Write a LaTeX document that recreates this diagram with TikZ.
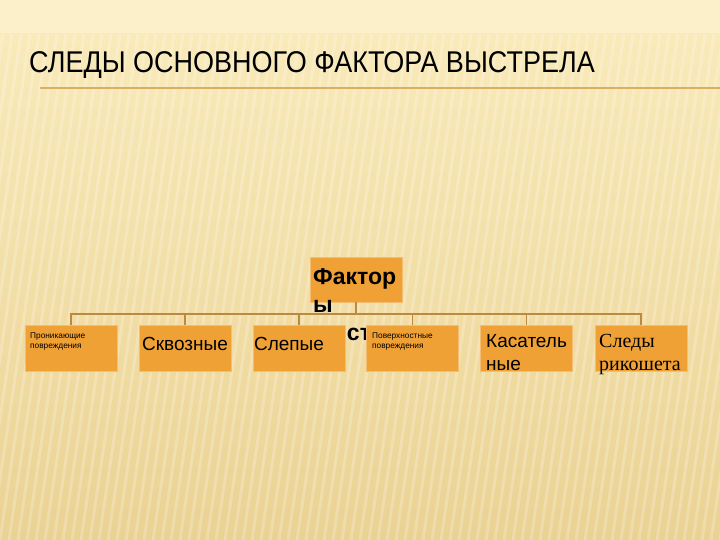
\documentclass[tikz,border=0pt]{standalone}
\usepackage{fontspec}
\setmainfont{Liberation Sans}
\newfontfamily\titlefont[FakeStretch=0.9]{Liberation Sans}
\newfontfamily\seriffont{Liberation Serif}
\definecolor{boxfill}{HTML}{EFA136}
\definecolor{conn}{HTML}{B98A40}
\definecolor{rulec}{HTML}{D8B064}
\definecolor{bgtop}{HTML}{FBF0C9}
\definecolor{bgmid}{HTML}{F9EABA}
\definecolor{bgbot}{HTML}{EAD293}
\tikzset{
  x=1pt, y=-1pt,
  orangebox/.style={fill=boxfill, draw=boxfill!70!white, line width=0.6pt, minimum width=92pt, minimum height=46pt, inner sep=0pt},
  tinytext/.style={font=\fontsize{8.3}{10}\selectfont, align=left, inner sep=0pt, anchor=base west},
  midtext/.style={font=\fontsize{19}{23}\selectfont, align=left, inner sep=0pt},
  connline/.style={draw=conn, line width=1.4pt},
}
\begin{document}
\begin{tikzpicture}
\useasboundingbox (0,0) rectangle (720,540);
% background
\fill[bgtop] (0,0) rectangle (720,34);
\shade[top color=bgmid, bottom color=bgbot] (0,34) rectangle (720,540);
\begin{scope}
\clip (0,34) rectangle (720,540);
\foreach \i in {-12,...,80} {
  \draw[white, opacity=0.22, line width=3pt] (\i*9,540) -- (\i*9+75,34);
}
\end{scope}
% title
\node[anchor=base west, inner sep=0pt, font=\titlefont\fontsize{30}{34}\selectfont] (title) at (29,73) {СЛЕДЫ ОСНОВНОГО ФАКТОРА ВЫСТРЕЛА};
\coordinate (rs) at (40,88);
\coordinate (re) at (720,88);
\draw[rulec, line width=1.2pt] (rs) -- (re);
% top node
\node[orangebox, minimum height=45pt] (f) at (356,279.5) {};
\node[anchor=base west, align=left, inner sep=0pt, font=\bfseries\fontsize{23}{28}\selectfont] (ft) at (313,340) {Фактор\\ы\\выстрела};
% bus
\coordinate (bus) at (356,314);
\draw[connline] (f.south) -- (bus);
% bottom boxes
\node[orangebox] (b1) at (71,348.5) {};
\node[orangebox] (b2) at (185,348.5) {};
\node[orangebox] (b3) at (299,348.5) {};
\node[orangebox] (b4) at (412.5,348.5) {};
\node[orangebox] (b5) at (526.5,348.5) {};
\node[orangebox] (b6) at (641,348.5) {};
\foreach \b in {b1,b2,b3,b4,b5,b6} {
  \draw[connline] (\b.north) |- (bus);
}
% texts
\node[tinytext] (t1) at (30,348) {Проникающие\\повреждения};
\node[midtext, anchor=base] (t2) at (185,350) {Сквозные};
\node[midtext, anchor=base] (t3) at (289,350) {Слепые};
\node[tinytext] (t4) at (372,348) {Поверхностные\\повреждения};
\node[midtext, anchor=base west] (t5) at (486,370) {Касатель\\ные};
\node[midtext, anchor=base west, font=\seriffont\fontsize{20}{23}\selectfont] (t6) at (599,370) {Следы\\рикошета};
\end{tikzpicture}
\end{document}
